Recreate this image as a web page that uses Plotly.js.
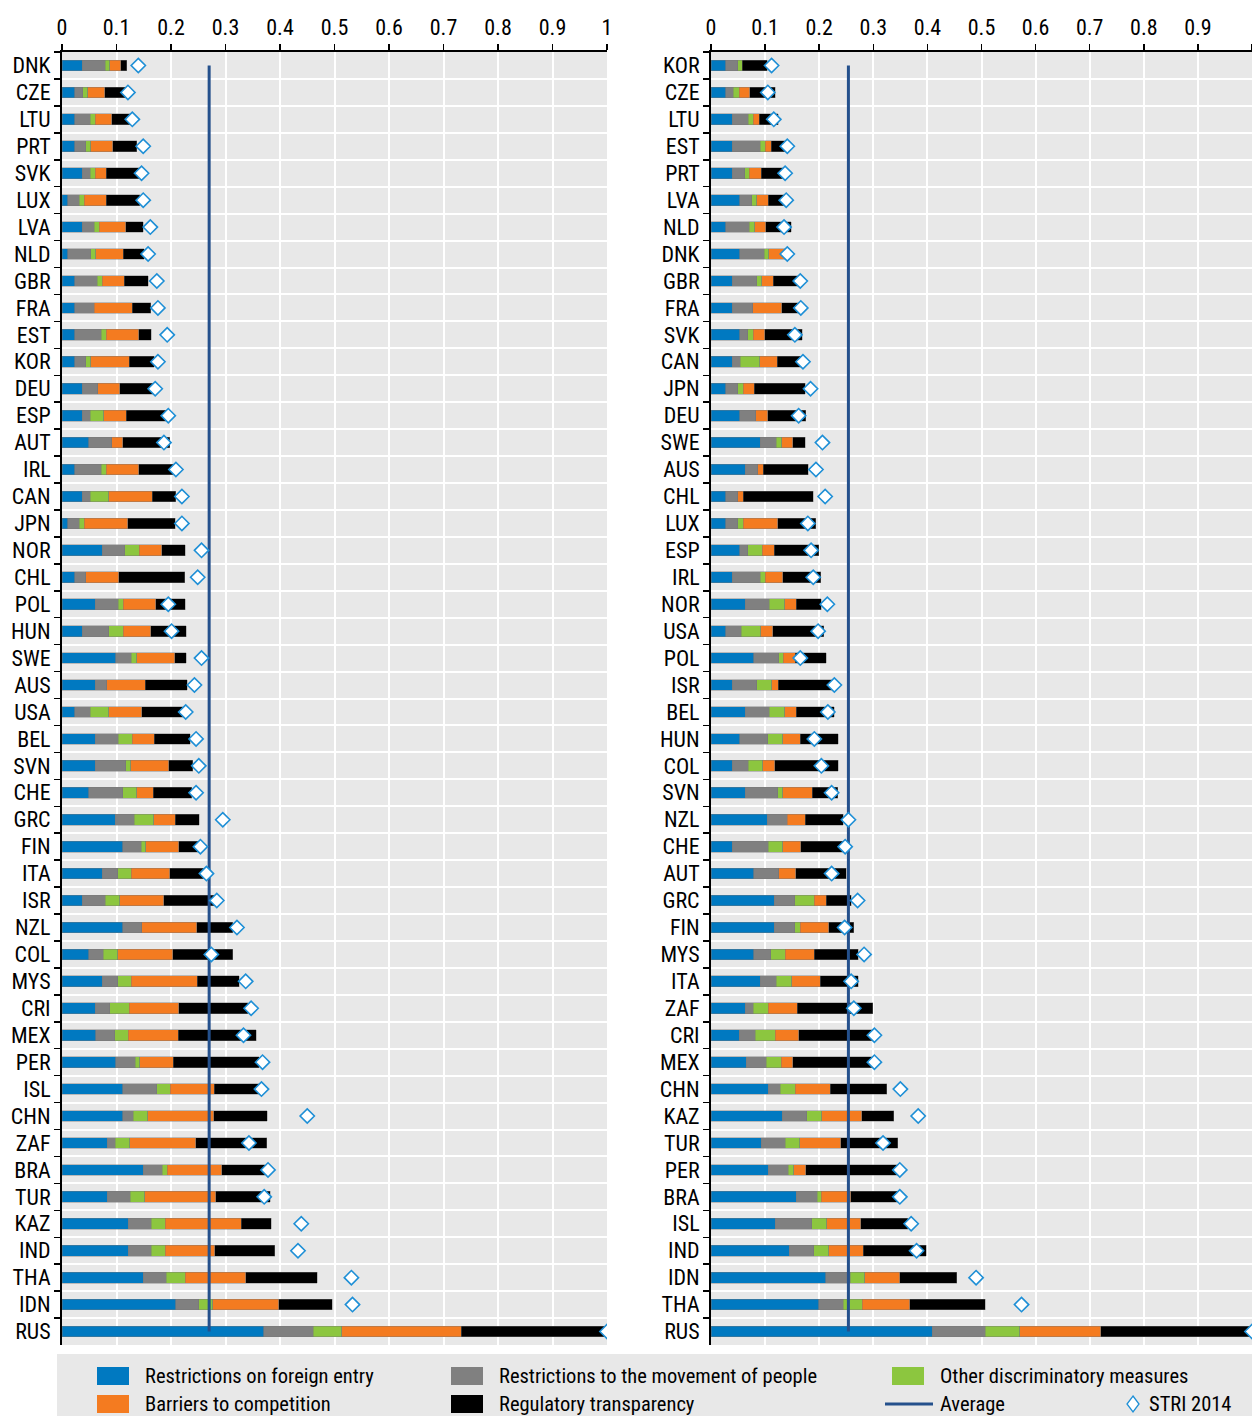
<!DOCTYPE html>
<html>
<head>
<meta charset="utf-8">
<script src="https://cdn.plot.ly/plotly-3.0.1.min.js"></script>
<style>html,body{margin:0;padding:0;background:#fff;}#chart{width:1252px;height:1416px;}</style>
</head>
<body>
<div id="chart"></div>
<script>
// ---------- DATA ----------
const countriesL = ["DNK","CZE","LTU","PRT","SVK","LUX","LVA","NLD","GBR","FRA","EST","KOR","DEU","ESP","AUT","IRL","CAN","JPN","NOR","CHL","POL","HUN","SWE","AUS","USA","BEL","SVN","CHE","GRC","FIN","ITA","ISR","NZL","COL","MYS","CRI","MEX","PER","ISL","CHN","ZAF","BRA","TUR","KAZ","IND","THA","IDN","RUS"];
const entryL  = [.037,.023,.023,.023,.037,.011,.037,.011,.023,.023,.023,.023,.037,.037,.049,.023,.037,.011,.074,.023,.061,.037,.099,.061,.023,.061,.061,.049,.098,.111,.074,.037,.111,.049,.074,.061,.062,.099,.111,.111,.083,.149,.083,.122,.122,.149,.209,.370];
const peopleL = [.042,.015,.029,.021,.015,.021,.022,.042,.042,.036,.049,.021,.029,.015,.042,.049,.015,.021,.041,.021,.042,.049,.028,.021,.029,.042,.056,.062,.035,.034,.028,.042,.035,.027,.028,.027,.035,.035,.063,.020,.015,.035,.042,.042,.042,.042,.042,.091];
const otherL  = [.009,.009,.009,.009,.009,.009,.009,.009,.009,0,.009,.009,0,.025,0,.009,.034,.009,.027,0,.009,.026,.010,0,.034,.026,.009,.026,.035,.009,.025,.027,0,.026,.025,.035,.025,.009,.025,.026,.026,.009,.027,.025,.025,.035,.026,.052];
const compL   = [.020,.031,.030,.040,.020,.040,.049,.050,.040,.070,.060,.070,.040,.041,.020,.060,.080,.080,.041,.060,.060,.051,.070,.071,.060,.040,.070,.030,.040,.060,.071,.081,.101,.101,.121,.091,.091,.061,.080,.121,.121,.100,.130,.140,.091,.111,.121,.220];
const transL  = [.011,.039,.035,.044,.062,.062,.032,.039,.044,.034,.023,.046,.062,.073,.087,.063,.043,.087,.043,.121,.054,.065,.021,.077,.086,.066,.044,.071,.044,.037,.062,.093,.066,.110,.077,.127,.143,.158,.084,.099,.131,.080,.100,.055,.110,.131,.098,.263];
const striL   = [.140,.121,.129,.149,.146,.149,.162,.158,.174,.176,.193,.176,.171,.195,.187,.209,.220,.220,.256,.249,.195,.201,.256,.243,.227,.246,.251,.246,.295,.254,.265,.284,.321,.274,.337,.347,.333,.368,.366,.450,.343,.378,.371,.439,.433,.531,.533,1.0];
const averageL = 0.270;

const countriesR = ["KOR","CZE","LTU","EST","PRT","LVA","NLD","DNK","GBR","FRA","SVK","CAN","JPN","DEU","SWE","AUS","CHL","LUX","ESP","IRL","NOR","USA","POL","ISR","BEL","HUN","COL","SVN","NZL","CHE","AUT","GRC","FIN","MYS","ITA","ZAF","CRI","MEX","CHN","KAZ","TUR","PER","BRA","ISL","IND","IDN","THA","RUS"];
const entryR  = [.027,.027,.039,.039,.039,.053,.027,.053,.039,.039,.053,.039,.027,.053,.091,.063,.027,.027,.053,.039,.063,.027,.079,.039,.063,.053,.039,.063,.104,.039,.079,.117,.117,.079,.091,.063,.052,.065,.106,.132,.093,.106,.158,.119,.145,.212,.199,.409];
const peopleR = [.022,.014,.030,.052,.023,.022,.044,.045,.046,.038,.015,.015,.022,.030,.030,.023,.022,.022,.015,.052,.045,.029,.046,.046,.045,.052,.030,.060,.037,.067,.046,.038,.038,.031,.030,.015,.030,.037,.022,.045,.044,.037,.038,.067,.045,.045,.045,.098];
const otherR  = [.009,.011,.009,.009,.009,.010,.010,.009,.009,0,.010,.036,.011,0,.010,0,0,.011,.027,.009,.028,.036,.009,.027,.028,.028,.027,.010,0,.027,0,.036,.010,.027,.028,.028,.037,.028,.028,.028,.027,.010,.008,.028,.028,.027,.036,.064];
const compR   = [0,.020,.011,.011,.022,.021,.020,.035,.021,.054,.021,.032,.020,.022,.020,.011,.011,.063,.022,.033,.022,.022,.022,.012,.022,.032,.022,.054,.033,.033,.032,.022,.053,.054,.053,.053,.043,.021,.064,.074,.076,.022,.054,.063,.063,.065,.087,.149];
const transR  = [.046,.047,.035,.026,.043,.031,.047,.004,.047,.034,.070,.045,.094,.070,.023,.083,.129,.071,.082,.070,.046,.094,.057,.105,.070,.070,.117,.047,.070,.083,.093,.046,.046,.081,.070,.140,.137,.147,.105,.059,.105,.173,.088,.087,.117,.105,.140,.279];
const striR   = [.112,.105,.116,.141,.137,.139,.135,.141,.165,.166,.155,.170,.184,.162,.206,.194,.211,.179,.185,.189,.215,.198,.165,.228,.216,.191,.204,.223,.254,.248,.223,.271,.247,.283,.259,.264,.302,.302,.350,.383,.318,.349,.349,.370,.380,.490,.574,1.0];
const averageR = 0.254;

const seriesNames = ["Restrictions on foreign entry","Restrictions to the movement of people","Other discriminatory measures","Barriers to competition","Regulatory transparency"];
const avgName = "Average";
const striName = "STRI 2014";

// ---------- STYLE ----------
const colors = ["#0079c1","#808080","#8cc63f","#f47b20","#000000"];
const avgColor = "#24508c";
const diaColor = "#1e8fd6";
const FONT = "'Liberation Sans Narrow','Arial Narrow','Roboto Condensed',sans-serif";
const W = 1252, H = 1416;
const px = v => v / W;
const py = v => 1 - v / H;

const traces = [];
function addPanel(cats, vals, stri, avg, xa, ya) {
  vals.forEach((v, i) => {
    traces.push({
      type: "bar", orientation: "h", y: cats, x: v, name: seriesNames[i],
      xaxis: xa, yaxis: ya,
      marker: {color: colors[i], line: {color: "rgba(120,120,120,0.7)", width: 0.6}},
      hoverinfo: "x+y+name"
    });
  });
  traces.push({
    type: "scatter", mode: "lines", name: avgName,
    x: [avg, avg], y: [cats[0], cats[cats.length - 1]],
    xaxis: xa, yaxis: ya,
    line: {color: avgColor, width: 3}
  });
  traces.push({
    type: "scatter", mode: "markers", name: striName,
    x: stri, y: cats, xaxis: xa, yaxis: ya,
    marker: {symbol: "diamond", size: 11, color: "#ffffff", line: {color: diaColor, width: 1.6}}
  });
}
addPanel(countriesL, [entryL, peopleL, otherL, compL, transL], striL, averageL, "x", "y");
addPanel(countriesR, [entryR, peopleR, otherR, compR, transR], striR, averageR, "x2", "y2");

const ydom = [py(1345), py(52)];
function xAxis(dom, anchor) {
  return {
    domain: dom, anchor: anchor, side: "top", range: [0, 1], dtick: 0.1, tick0: 0,
    showgrid: true, gridcolor: "#ffffff", gridwidth: 2, zeroline: false,
    showline: true, linecolor: "#000", linewidth: 2,
    ticks: "outside", ticklen: 6, tickwidth: 1.5, tickcolor: "#000", ticklabelstandoff: 0,
    tickfont: {family: FONT, size: 22, color: "#000"}, fixedrange: true
  };
}
function yAxis(cats, anchor) {
  return {
    domain: ydom, anchor: anchor, type: "category", categoryorder: "array", categoryarray: cats,
    range: [cats.length - 0.5, -0.5], autorange: false,
    tickmode: "linear", tick0: 0, dtick: 1,
    tickson: "boundaries", ticks: "outside", ticklen: 6, tickwidth: 1.5, tickcolor: "#000",
    ticklabelstandoff: 5,
    showgrid: true, gridcolor: "#ffffff", gridwidth: 2,
    showline: true, linecolor: "#000", linewidth: 2,
    tickfont: {family: FONT, size: 22, color: "#000"}, fixedrange: true
  };
}

// manual legend
const shapes = [
  {type: "rect", xref: "paper", yref: "paper", x0: px(57), x1: px(1252), y0: py(1416), y1: py(1354), fillcolor: "#e8e8e8", line: {width: 0}, layer: "below"}
];
const annotations = [];
const legItems = [
  {kind: "sq", color: colors[0], x: 97, y: 1376, text: seriesNames[0]},
  {kind: "sq", color: colors[1], x: 451, y: 1376, text: seriesNames[1]},
  {kind: "sq", color: colors[2], x: 892, y: 1376, text: seriesNames[2]},
  {kind: "sq", color: colors[3], x: 97, y: 1404, text: seriesNames[3]},
  {kind: "sq", color: colors[4], x: 451, y: 1404, text: seriesNames[4]},
  {kind: "line", color: avgColor, x: 885, y: 1404, text: avgName},
  {kind: "dia", color: diaColor, x: 1126, y: 1404, text: striName}
];
legItems.forEach(it => {
  let tx;
  if (it.kind === "sq") {
    shapes.push({type: "rect", xref: "paper", yref: "paper", x0: px(it.x), x1: px(it.x + 32), y0: py(it.y + 9), y1: py(it.y - 9), fillcolor: it.color, line: {width: 0}});
    tx = it.x + 46;
  } else if (it.kind === "line") {
    shapes.push({type: "line", xref: "paper", yref: "paper", x0: px(it.x), x1: px(it.x + 48), y0: py(it.y), y1: py(it.y), line: {color: it.color, width: 3}});
    tx = it.x + 53;
  } else {
    const cx = it.x + 7, cy = it.y;
    shapes.push({type: "path", xref: "paper", yref: "paper",
      path: `M ${px(cx)} ${py(cy - 8)} L ${px(cx + 6)} ${py(cy)} L ${px(cx)} ${py(cy + 8)} L ${px(cx - 6)} ${py(cy)} Z`,
      fillcolor: "#ffffff", line: {color: it.color, width: 1.3}});
    tx = it.x + 21;
  }
  annotations.push({xref: "paper", yref: "paper", x: px(tx), y: py(it.y), xanchor: "left", yanchor: "middle",
    text: it.text, showarrow: false, font: {family: FONT, size: 20.5, color: "#000"}});
});

const layout = {
  width: W, height: H,
  margin: {l: 0, r: 0, t: 0, b: 0, pad: 0},
  paper_bgcolor: "#ffffff", plot_bgcolor: "#e8e8e8",
  barmode: "stack", bargap: 0.6,
  showlegend: false,
  font: {family: FONT, size: 20, color: "#000"},
  xaxis: xAxis([px(62), px(607)], "y"),
  yaxis: yAxis(countriesL, "x"),
  xaxis2: xAxis([px(711), 1], "y2"),
  yaxis2: yAxis(countriesR, "x2"),
  shapes: shapes, annotations: annotations
};

Plotly.newPlot("chart", traces, layout, {displayModeBar: false, staticPlot: true});
</script>
</body>
</html>
